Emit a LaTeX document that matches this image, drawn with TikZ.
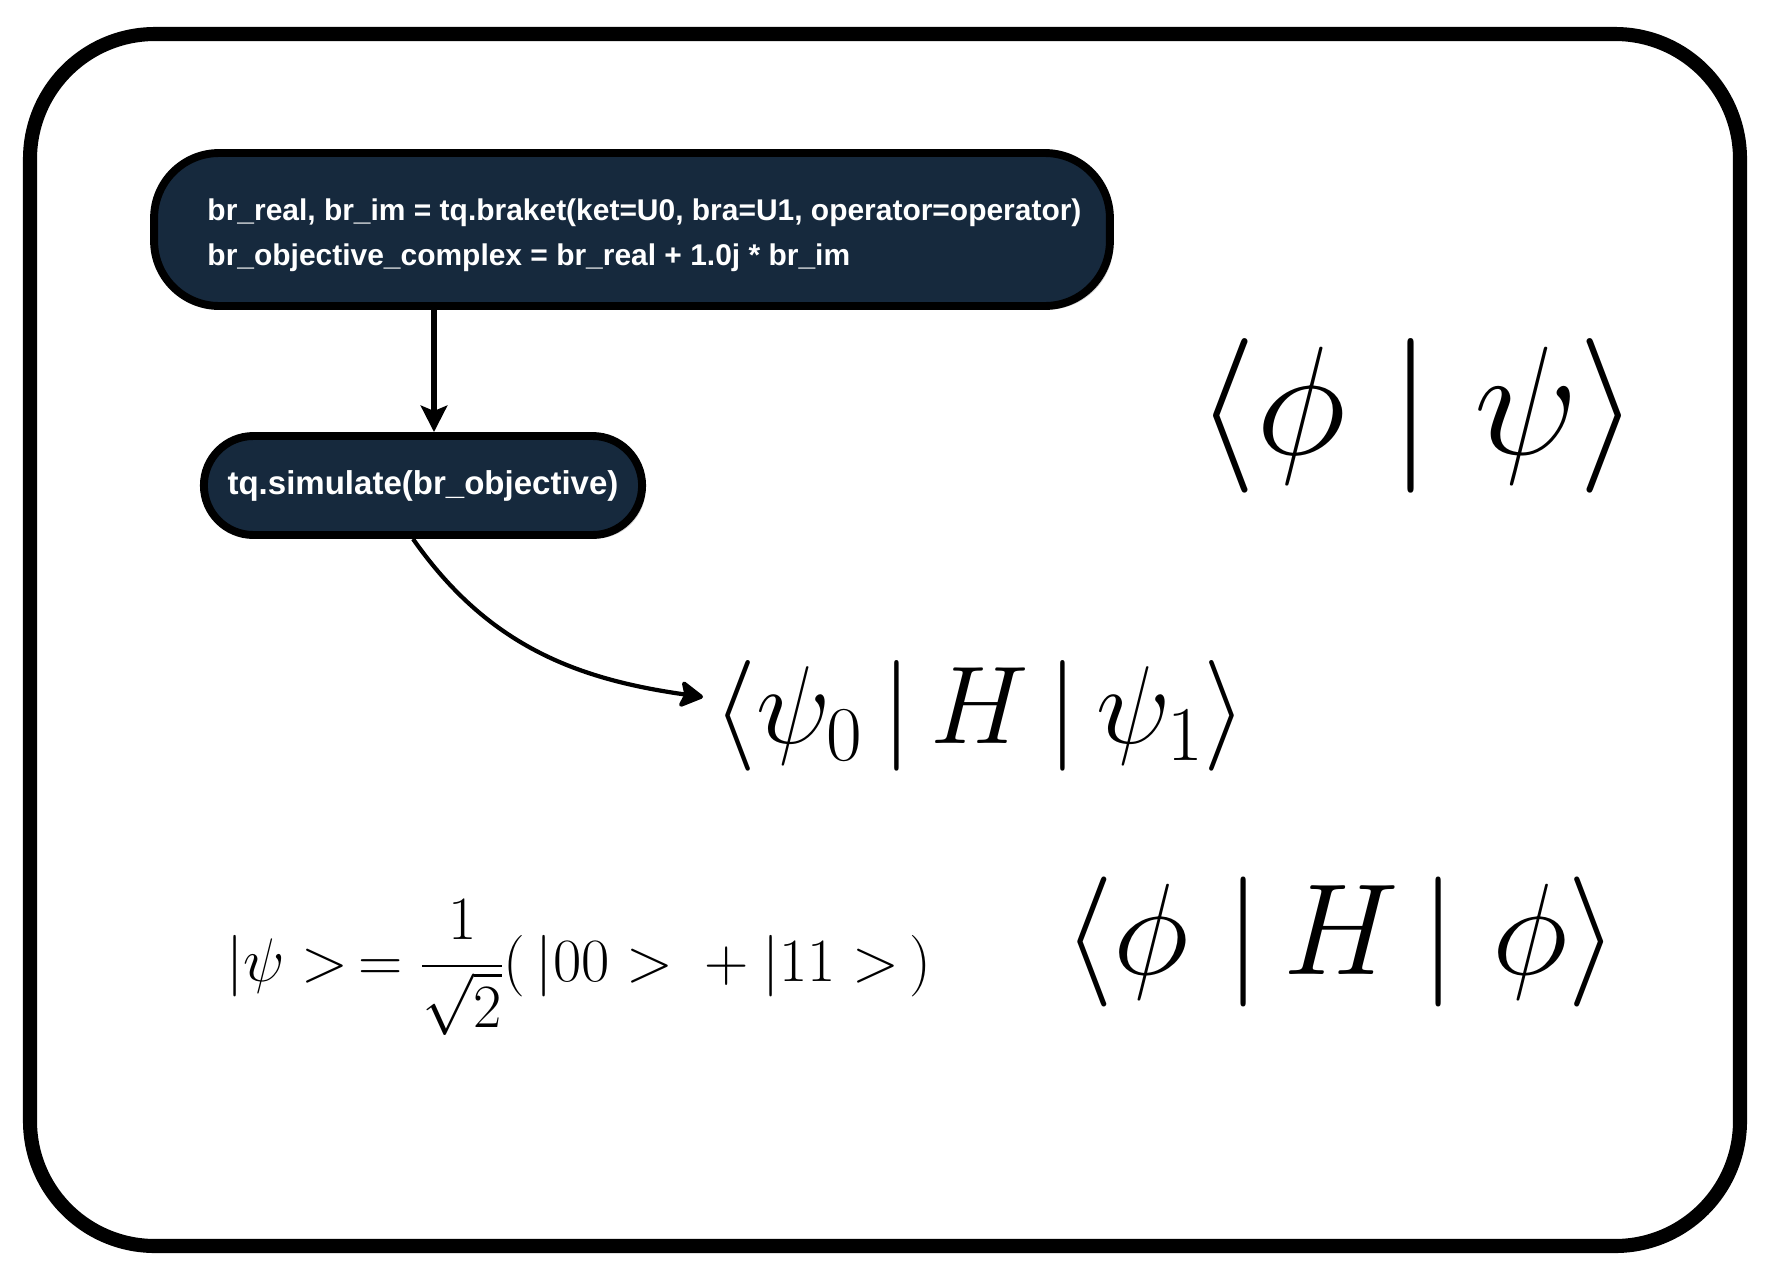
\RequirePackage{fix-cm}
\documentclass[tikz,border=0pt]{standalone}
\usepackage{amsmath}
\usepackage[no-math]{fontspec}
\setmainfont{Liberation Serif}
\newfontfamily\codefont{Liberation Sans}
\usepackage{tikz}
\usetikzlibrary{shapes,arrows.meta,positioning,shadows}
\definecolor{BoxNavy}{HTML}{16293D}
\newcommand{\codeindent}{\hspace*{0.5cm}}
\tikzset{
    % Base node style
    basenode/.style={
        draw=black,
        fill=BoxNavy,
        text=white,
        line width=4.5pt,
        drop shadow={shadow xshift=0.07cm,shadow yshift=-0.07cm,opacity=0.35}
    },
    % Code box
    codenode/.style={
        basenode,
        rounded corners=1.3cm,
        minimum width=19.12cm,
        minimum height=3.06cm,
        align=left,
        text height=45pt,
        font=\codefont\bfseries\fontsize{17.05}{25.6}\selectfont
    },
    % Simulate pill
    simnode/.style={
        basenode,
        rounded rectangle,
        minimum width=9cm,
        minimum height=1.98cm,
        font=\codefont\bfseries\fontsize{18.8}{22}\selectfont
    },
    % Formula nodes
    mathnode/.style={
        inner sep=0pt,
        anchor=west
    },
    % Straight arrow
    myarrow/.style={
        -{Stealth[length=15pt,width=15pt,inset=3pt]},
        line width=3pt,
        draw=black
    },
    % Curved arrow
    curvearrow/.style={
        -{Stealth[length=15pt,width=17pt,inset=3pt,round]},
        line width=2.4pt,
        draw=black
    },
    % Outer frame
    framebox/.style={
        draw=black,
        fill=white,
        line width=8pt,
        rounded corners=2.5cm,
        drop shadow={shadow xshift=0.07cm,shadow yshift=-0.07cm,opacity=0.3}
    }
}
\begin{document}
\begin{tikzpicture}[x=0.02cm,y=-0.02cm]
    \useasboundingbox (0,0) rectangle (1769,1265);
    \path[framebox] (30,34) rectangle (1740,1246);
    % flow
    \node[codenode] (code) at (632,229.5) {\codeindent br\_real, br\_im = tq.braket(ket=U0, bra=U1, operator=operator)\\\codeindent br\_objective\_complex = br\_real + 1.0j * br\_im};
    \node[simnode] (sim) at (423,485.5) {tq.simulate(br\_objective)};
    \draw[myarrow] ([xshift=0.22cm]sim.north |- code.south) -- ([xshift=0.22cm]sim.north);
    % formulas
    \node[mathnode,font=\fontsize{88}{100}\selectfont] (phipsi) at (1196,416) {$\langle\phi\;|\;\psi\rangle$};
    \node[mathnode,font=\fontsize{63}{72}\selectfont] (hpsi) at (713,716) {$\langle\psi_0\,|\,H\,|\,\psi_1\rangle$};
    \node[mathnode,font=\fontsize{74}{84}\selectfont] (hphi) at (1063,942) {$\langle\phi\;|\,H\,|\;\phi\rangle$};
    \node[mathnode,font=\fontsize{35}{44}\selectfont] (bell) at (226,968) {$|\psi >\,=\dfrac{1}{\sqrt{2}}(\,|00 > {}+{} |11 >\,)$};
    \draw[curvearrow] ([xshift=-0.2cm]sim.south) to[out=-55,in=172] ([xshift=-0.2cm,yshift=0.38cm]hpsi.west);
\end{tikzpicture}
\end{document}
